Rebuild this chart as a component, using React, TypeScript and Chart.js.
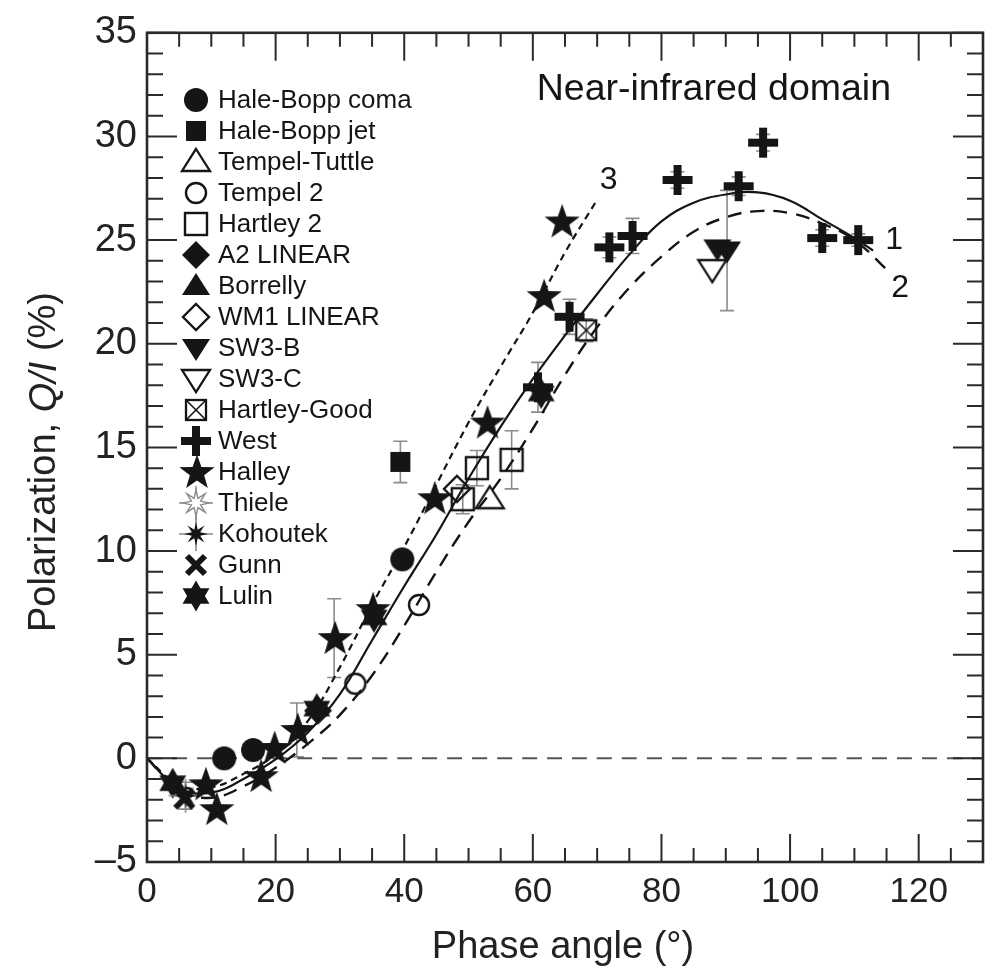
import React, { useEffect, useRef } from "react";
import { Chart, registerables } from "chart.js";

Chart.register(...registerables);

// ---------- axis ticks ----------
const xTicks = [0, 20, 40, 60, 80, 100, 120];
const yTicks = [-5, 0, 5, 10, 15, 20, 25, 30, 35];
const xMinorStep = 5;
const yMinorStep = 1;

// ---------- model curves ----------
const curve1X = [0, 5, 10, 15, 20, 25, 30, 35, 40, 45, 50, 55, 60, 65, 70, 75, 80, 85, 90, 95, 100, 105, 110, 112.9];
const curve1Y = [0, -1.45, -1.65, -1.0, -0.05, 1.25, 3.1, 5.7, 8.3, 10.8, 13.5, 16.0, 18.3, 20.4, 22.4, 24.3, 25.9, 26.8, 27.2, 27.3, 26.9, 26.0, 25.1, 24.5];

const curve2X = [0, 5, 10, 15, 20, 25, 30, 35, 40, 45, 50, 55, 60, 65, 70, 75, 80, 85, 90, 95, 100, 105, 110, 115.8];
const curve2Y = [0, -1.55, -1.9, -1.35, -0.45, 0.7, 2.1, 4.0, 6.4, 9.0, 11.4, 13.5, 15.9, 18.5, 20.8, 22.7, 24.2, 25.4, 26.1, 26.4, 26.3, 25.8, 25.0, 23.35];

const curve3X = [0, 5, 10, 15, 20, 25, 30, 35, 40, 45, 50, 55, 60, 65, 70.1];
const curve3Y = [0, -1.3, -1.4, -0.75, 0.2, 1.8, 4.4, 7.4, 10.2, 13.2, 16.2, 18.9, 21.5, 24.4, 27.0];

const zeroLineX = [0, 130];
const zeroLineY = [0, 0];

// ---------- observations ----------
const haleBoppComaX = [12.0, 16.5, 39.7];
const haleBoppComaY = [0.0, 0.4, 9.6];
const haleBoppComaErr = [0, 0, 0];

const haleBoppJetX = [39.4];
const haleBoppJetY = [14.3];
const haleBoppJetErr = [1.0];

const tempelTuttleX = [53.3];
const tempelTuttleY = [12.5];
const tempelTuttleErr = [0];

const tempel2X = [32.4, 42.3];
const tempel2Y = [3.6, 7.4];
const tempel2Err = [0, 0];

const hartley2X = [51.3, 56.7, 49.1];
const hartley2Y = [14.0, 14.4, 12.5];
const hartley2Err = [0.85, 1.4, 0.7];

const a2LinearX = [26.6];
const a2LinearY = [2.3];
const a2LinearErr = [0];

const borrellyX: number[] = [];
const borrellyY: number[] = [];
const borrellyErr: number[] = [];

const wm1LinearX = [48.2];
const wm1LinearY = [13.0];
const wm1LinearErr = [0];

const sw3BX = [88.7, 90.2];
const sw3BY = [24.6, 24.5];
const sw3BErr = [0, 2.9];

const sw3CX = [87.9];
const sw3CY = [23.6];
const sw3CErr = [0];

const hartleyGoodX = [68.3];
const hartleyGoodY = [20.65];
const hartleyGoodErr = [0.55];

const westX = [60.8, 65.7, 71.9, 75.5, 82.5, 92.0, 95.8, 105.0, 110.6];
const westY = [17.9, 21.3, 24.65, 25.2, 27.9, 27.6, 29.7, 25.1, 25.0];
const westErr = [1.2, 0.85, 0.5, 0.85, 0.4, 0.45, 0.4, 0.4, 0.3];

const halleyX = [9.0, 10.7, 17.6, 19.7, 23.3, 29.1, 35.0, 44.6, 52.8, 61.6, 64.4];
const halleyY = [-1.25, -2.45, -0.86, 0.5, 1.37, 5.8, 7.2, 12.55, 16.2, 22.3, 25.9];
const halleyErr = [0, 0, 0, 0, 1.3, 1.9, 0, 0, 0, 0, 0];

const thieleX: number[] = [];
const thieleY: number[] = [];
const thieleErr: number[] = [];

const kohoutekX = [6.0];
const kohoutekY = [-1.8];
const kohoutekErr = [0.65];

const gunnX = [5.8];
const gunnY = [-1.95];
const gunnErr = [0];

const lulinX = [4.0, 26.4, 35.3, 61.3];
const lulinY = [-1.2, 2.4, 6.8, 17.6];
const lulinErr = [0, 0, 0, 0];

const seriesNames = [
  "Hale-Bopp coma", "Hale-Bopp jet", "Tempel-Tuttle", "Tempel 2", "Hartley 2",
  "A2 LINEAR", "Borrelly", "WM1 LINEAR", "SW3-B", "SW3-C", "Hartley-Good",
  "West", "Halley", "Thiele", "Kohoutek", "Gunn", "Lulin",
];

const INK = "#151515";
const FONT = "'Liberation Sans', Arial, Helvetica, sans-serif";

type Draw = (c: CanvasRenderingContext2D, m: number) => void;

function makeCanvas(draw: Draw): HTMLCanvasElement {
  const cv = document.createElement("canvas");
  cv.width = 42;
  cv.height = 42;
  const c = cv.getContext("2d")!;
  c.fillStyle = INK;
  c.strokeStyle = INK;
  c.lineJoin = "miter";
  draw(c, 21);
  return cv;
}

function starPath(c: CanvasRenderingContext2D, m: number, n: number, R: number, r: number) {
  c.beginPath();
  for (let i = 0; i < 2 * n; i++) {
    const a = -Math.PI / 2 + (i * Math.PI) / n;
    const rad = i % 2 === 0 ? R : r;
    const px = m + rad * Math.cos(a);
    const py = m + rad * Math.sin(a);
    if (i === 0) c.moveTo(px, py);
    else c.lineTo(px, py);
  }
  c.closePath();
}

function triPath(c: CanvasRenderingContext2D, m: number, down: boolean) {
  c.beginPath();
  if (!down) {
    c.moveTo(m, m - 13);
    c.lineTo(m + 14, m + 9);
    c.lineTo(m - 14, m + 9);
  } else {
    c.moveTo(m - 14, m - 9);
    c.lineTo(m + 14, m - 9);
    c.lineTo(m, m + 13);
  }
  c.closePath();
}

function buildMarkers(): HTMLCanvasElement[] {
  const circleFilled = makeCanvas((c, m) => { c.beginPath(); c.arc(m, m, 12, 0, Math.PI * 2); c.fill(); });
  const squareFilled = makeCanvas((c, m) => { c.fillRect(m - 10, m - 10, 20, 20); });
  const triUpOpen = makeCanvas((c, m) => { c.lineWidth = 2.3; triPath(c, m, false); c.stroke(); });
  const circleOpen = makeCanvas((c, m) => { c.lineWidth = 2.4; c.beginPath(); c.arc(m, m, 10, 0, Math.PI * 2); c.stroke(); });
  const squareOpen = makeCanvas((c, m) => { c.lineWidth = 2.4; c.strokeRect(m - 11, m - 11, 22, 22); });
  const diamondFilled = makeCanvas((c, m) => {
    c.beginPath(); c.moveTo(m, m - 14); c.lineTo(m + 14, m); c.lineTo(m, m + 14); c.lineTo(m - 14, m); c.closePath(); c.fill();
  });
  const triUpFilled = makeCanvas((c, m) => { triPath(c, m, false); c.fill(); });
  const diamondOpen = makeCanvas((c, m) => {
    c.lineWidth = 2.4;
    c.beginPath(); c.moveTo(m, m - 13); c.lineTo(m + 13, m); c.lineTo(m, m + 13); c.lineTo(m - 13, m); c.closePath(); c.stroke();
  });
  const triDownFilled = makeCanvas((c, m) => { triPath(c, m, true); c.fill(); });
  const triDownOpen = makeCanvas((c, m) => { c.lineWidth = 2.3; triPath(c, m, true); c.stroke(); });
  const squareX = makeCanvas((c, m) => {
    c.lineWidth = 2.3;
    c.strokeRect(m - 10, m - 10, 20, 20);
    c.lineWidth = 1.6;
    c.beginPath(); c.moveTo(m - 10, m - 10); c.lineTo(m + 10, m + 10); c.moveTo(m + 10, m - 10); c.lineTo(m - 10, m + 10); c.stroke();
  });
  const plusThick = makeCanvas((c, m) => { c.fillRect(m - 15, m - 4, 30, 8); c.fillRect(m - 4, m - 15, 8, 30); });
  const star5 = makeCanvas((c, m) => { starPath(c, m + 1, 5, 18.5, 7.5); c.fill(); });
  const thiele = makeCanvas((c, m) => {
    c.strokeStyle = "#8a8a8a"; c.lineWidth = 1.4;
    c.beginPath(); c.moveTo(m, m - 17); c.lineTo(m, m + 17); c.moveTo(m - 17, m); c.lineTo(m + 17, m); c.stroke();
    starPath(c, m, 8, 13, 5); c.fillStyle = "#fff"; c.fill(); c.stroke();
  });
  const kohoutek = makeCanvas((c, m) => {
    c.strokeStyle = "#8a8a8a"; c.lineWidth = 1.6;
    c.beginPath(); c.moveTo(m, m - 17); c.lineTo(m, m + 17); c.moveTo(m - 17, m); c.lineTo(m + 17, m); c.stroke();
    starPath(c, m, 8, 12, 4.5); c.fill();
  });
  const gunn = makeCanvas((c, m) => {
    c.lineWidth = 6; c.lineCap = "butt";
    c.beginPath(); c.moveTo(m - 9, m - 9); c.lineTo(m + 9, m + 9); c.moveTo(m + 9, m - 9); c.lineTo(m - 9, m + 9); c.stroke();
  });
  const hexagram = makeCanvas((c, m) => {
    const R = 15.5;
    for (const base of [-Math.PI / 2, Math.PI / 2]) {
      c.beginPath();
      for (let k = 0; k < 3; k++) {
        const a = base + (k * 2 * Math.PI) / 3;
        const px = m + R * Math.cos(a), py = m + R * Math.sin(a);
        if (k === 0) c.moveTo(px, py); else c.lineTo(px, py);
      }
      c.closePath(); c.fill();
    }
  });
  return [
    circleFilled, squareFilled, triUpOpen, circleOpen, squareOpen, diamondFilled,
    triUpFilled, diamondOpen, triDownFilled, triDownOpen, squareX, plusThick,
    star5, thiele, kohoutek, gunn, hexagram,
  ];
}

const toPoints = (xs: number[], ys: number[]) => xs.map((x, i) => ({ x, y: ys[i] }));

export default function App() {
  const ref = useRef<HTMLCanvasElement>(null);

  useEffect(() => {
    document.body.style.margin = "0";
    const markers = buildMarkers();

    const obsX = [haleBoppComaX, haleBoppJetX, tempelTuttleX, tempel2X, hartley2X, a2LinearX, borrellyX, wm1LinearX, sw3BX, sw3CX, hartleyGoodX, westX, halleyX, thieleX, kohoutekX, gunnX, lulinX];
    const obsY = [haleBoppComaY, haleBoppJetY, tempelTuttleY, tempel2Y, hartley2Y, a2LinearY, borrellyY, wm1LinearY, sw3BY, sw3CY, hartleyGoodY, westY, halleyY, thieleY, kohoutekY, gunnY, lulinY];
    const obsErr = [haleBoppComaErr, haleBoppJetErr, tempelTuttleErr, tempel2Err, hartley2Err, a2LinearErr, borrellyErr, wm1LinearErr, sw3BErr, sw3CErr, hartleyGoodErr, westErr, halleyErr, thieleErr, kohoutekErr, gunnErr, lulinErr];

    const datasets: any[] = seriesNames.map((name, i) => ({
      label: name,
      data: toPoints(obsX[i], obsY[i]),
      errs: obsErr[i],
      pointStyle: markers[i],
      pointRadius: 10,
      showLine: false,
      order: 1,
    }));

    const lineDs = (label: string, xs: number[], ys: number[], dash: number[], width: number, color: string, order: number) => ({
      label,
      data: toPoints(xs, ys),
      showLine: true,
      pointRadius: 0,
      borderColor: color,
      borderWidth: width,
      borderDash: dash,
      tension: 0.4,
      fill: false,
      order,
    });

    datasets.push(lineDs("zero", zeroLineX, zeroLineY, [15, 10], 2, "#555", 10));
    datasets.push(lineDs("1", curve1X, curve1Y, [], 2.2, INK, 5));
    datasets.push(lineDs("2", curve2X, curve2Y, [14, 9], 2.4, INK, 5));
    datasets.push(lineDs("3", curve3X, curve3Y, [7, 5], 2.2, INK, 5));

    const errorBars = {
      id: "errorBars",
      beforeDatasetsDraw(chart: any) {
        const ctx = chart.ctx;
        const ys = chart.scales.y;
        ctx.save();
        ctx.strokeStyle = "#8c8c8c";
        ctx.lineWidth = 1.6;
        chart.data.datasets.forEach((ds: any, i: number) => {
          if (!ds.errs) return;
          const meta = chart.getDatasetMeta(i);
          meta.data.forEach((pt: any, j: number) => {
            const e = ds.errs[j];
            if (!e) return;
            const v = ds.data[j].y;
            const yT = ys.getPixelForValue(v + e);
            const yB = ys.getPixelForValue(v - e);
            const x = pt.x;
            ctx.beginPath();
            ctx.moveTo(x, yT); ctx.lineTo(x, yB);
            ctx.moveTo(x - 7, yT); ctx.lineTo(x + 7, yT);
            ctx.moveTo(x - 7, yB); ctx.lineTo(x + 7, yB);
            ctx.stroke();
          });
        });
        ctx.restore();
      },
    };

    const frame = {
      id: "frame",
      afterDatasetsDraw(chart: any) {
        const ctx = chart.ctx;
        const { left, right, top, bottom } = chart.chartArea;
        const xs = chart.scales.x;
        const ys = chart.scales.y;
        ctx.save();
        ctx.strokeStyle = "#2a2a2a";
        ctx.lineWidth = 2;
        ctx.beginPath();
        for (let v = xs.min; v <= xs.max + 1e-9; v += xMinorStep) {
          const px = xs.getPixelForValue(v);
          const len = xTicks.includes(v) ? 28 : 14;
          ctx.moveTo(px, bottom); ctx.lineTo(px, bottom - len);
          ctx.moveTo(px, top); ctx.lineTo(px, top + len);
        }
        for (let v = ys.min; v <= ys.max + 1e-9; v += yMinorStep) {
          const py = ys.getPixelForValue(v);
          const len = yTicks.includes(v) ? 30 : 16;
          ctx.moveTo(left, py); ctx.lineTo(left + len, py);
          ctx.moveTo(right, py); ctx.lineTo(right - len, py);
        }
        ctx.stroke();
        ctx.lineWidth = 2.6;
        ctx.strokeRect(left, top, right - left, bottom - top);
        ctx.restore();
      },
    };

    const annotations = {
      id: "annotations",
      afterDraw(chart: any) {
        const ctx = chart.ctx;
        const xs = chart.scales.x;
        const ys = chart.scales.y;
        ctx.save();
        ctx.fillStyle = INK;
        // legend
        ctx.textAlign = "left";
        ctx.textBaseline = "middle";
        ctx.font = `26px ${FONT}`;
        seriesNames.forEach((name, i) => {
          const cy = 100 + i * 31;
          const mk = markers[i];
          ctx.drawImage(mk, 196 - mk.width / 2, cy - mk.height / 2);
          ctx.fillText(name, 218, cy + 1);
        });
        // domain label and curve labels
        ctx.font = `37.5px ${FONT}`;
        ctx.fillText("Near-infrared domain", xs.getPixelForValue(60.6), ys.getPixelForValue(32.25));
        ctx.font = `32px ${FONT}`;
        ctx.textAlign = "center";
        ctx.fillText("3", xs.getPixelForValue(71.8), ys.getPixelForValue(27.9));
        ctx.fillText("1", xs.getPixelForValue(116.2), ys.getPixelForValue(25.0));
        ctx.fillText("2", xs.getPixelForValue(117.1), ys.getPixelForValue(22.7));
        // x title
        ctx.font = `38px ${FONT}`;
        ctx.fillStyle = "#222";
        ctx.fillText("Phase angle (\u00b0)", 563, 948);
        // y title with italic Q/I
        ctx.translate(45, 462);
        ctx.rotate(-Math.PI / 2);
        const parts = [
          { t: "Polarization, ", f: `38px ${FONT}` },
          { t: "Q/I", f: `italic 38px ${FONT}` },
          { t: " (%)", f: `38px ${FONT}` },
        ];
        let total = 0;
        parts.forEach((p) => { ctx.font = p.f; total += ctx.measureText(p.t).width; });
        let cx = -total / 2;
        ctx.textAlign = "left";
        parts.forEach((p) => { ctx.font = p.f; ctx.fillText(p.t, cx, 0); cx += ctx.measureText(p.t).width; });
        ctx.restore();
      },
    };

    const chart = new Chart(ref.current!, {
      type: "scatter",
      data: { datasets },
      options: {
        animation: false,
        responsive: false,
        layout: { padding: { left: 0, right: 7, top: 22, bottom: 0 } },
        plugins: {
          legend: { display: false },
          tooltip: { enabled: false },
        },
        scales: {
          x: {
            type: "linear",
            min: 0,
            max: 130,
            grid: { display: false, drawTicks: false },
            border: { display: false },
            afterBuildTicks: (s: any) => { s.ticks = xTicks.map((v) => ({ value: v })); },
            afterFit: (s: any) => { s.height = 108; },
            ticks: { font: { size: 35, family: FONT }, color: "#222", padding: 9, maxRotation: 0 },
          },
          y: {
            type: "linear",
            min: -5,
            max: 35,
            grid: { display: false, drawTicks: false },
            border: { display: false },
            afterBuildTicks: (s: any) => { s.ticks = yTicks.map((v) => ({ value: v })); },
            afterFit: (s: any) => { s.width = 147; },
            ticks: {
              font: { size: 38, family: FONT },
              color: "#222",
              padding: 10,
              callback: (v: any) => (Number(v) < 0 ? "\u2013" + Math.abs(Number(v)) : String(v)),
            },
          },
        },
      } as any,
      plugins: [errorBars, frame, annotations],
    });

    return () => chart.destroy();
  }, []);

  return (
    <div style={{ width: 994, height: 970 }}>
      <canvas ref={ref} width={994} height={970} style={{ display: "block" }} />
    </div>
  );
}
